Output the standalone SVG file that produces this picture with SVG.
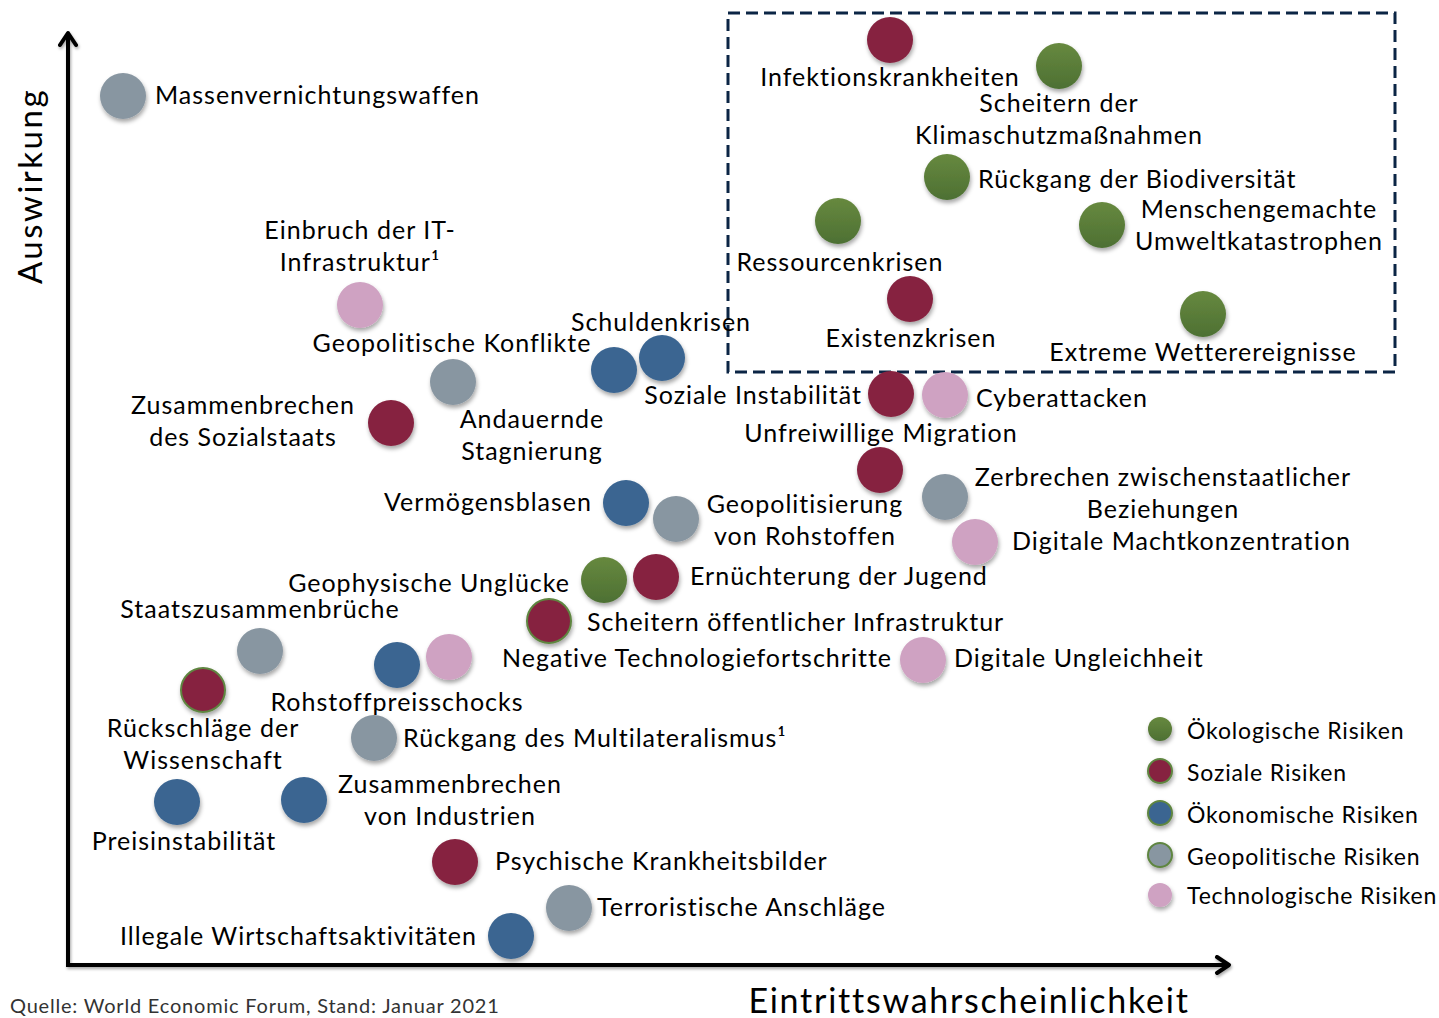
<svg xmlns="http://www.w3.org/2000/svg" width="1439" height="1018" viewBox="0 0 1439 1018">
<defs>
<filter id="sh" x="-30%" y="-30%" width="160%" height="170%"><feDropShadow dx="1" dy="3" stdDeviation="2" flood-color="#000" flood-opacity="0.35"/></filter>
<filter id="ash" filterUnits="userSpaceOnUse" x="0" y="0" width="1439" height="1018"><feDropShadow dx="1" dy="2" stdDeviation="1.5" flood-color="#000" flood-opacity="0.35"/></filter>
<linearGradient id="gg" x1="0" y1="0" x2="0" y2="1"><stop offset="0" stop-color="#67893f"/><stop offset="1" stop-color="#4d7033"/></linearGradient>
<marker id="arr" viewBox="0 0 20 20" refX="14" refY="10" markerWidth="20" markerHeight="20" markerUnits="userSpaceOnUse" orient="auto"><path d="M3,2 L15,10 L3,18" fill="none" stroke="#000" stroke-width="4" stroke-linecap="round" stroke-linejoin="round"/></marker>
</defs>
<style>
text{font-family:Lato,"Noto Sans",sans-serif;font-size:25px;fill:#000;letter-spacing:1px}
.c{text-anchor:middle}
.n circle{filter:url(#sh)}
.eco{fill:url(#gg)}
.soc{fill:#862440}
.ecn{fill:#3a6591}
.geo{fill:#8896a1}
.tec{fill:#cfa2c2}
.gs{stroke:#5e8540;stroke-width:2}
.lg text{font-size:23px;letter-spacing:0.85px}
</style>
<rect width="1439" height="1018" fill="#fff"/>
<g id="connectors" filter="url(#ash)">
<path d="M68,965 L68,34" fill="none" stroke="#000" stroke-width="4" marker-end="url(#arr)"/>
<path d="M66,965 L1228,965" fill="none" stroke="#000" stroke-width="4" marker-end="url(#arr)"/>
</g>
<rect id="focus-box" x="728" y="13" width="667" height="359" fill="none" stroke="#0b2545" stroke-width="3" stroke-dasharray="12 6"/>
<text x="0" y="0" transform="translate(42,186) rotate(-90)" class="c" style="font-size:33px;letter-spacing:2.5px">Auswirkung</text>
<text x="969" y="1013" class="c" style="font-size:34px;letter-spacing:1.75px">Eintrittswahrscheinlichkeit</text>
<text x="10" y="1013" style="font-size:20px;fill:#333;letter-spacing:0.8px">Quelle: World Economic Forum, Stand: Januar 2021</text>

<g id="n-massenvernichtungswaffen" class="n"><circle cx="123" cy="96" r="23" class="geo"/><text x="155" y="104">Massenvernichtungswaffen</text></g>
<g id="n-infektionskrankheiten" class="n"><circle cx="890" cy="40" r="23" class="soc"/><text x="890" y="86" class="c">Infektionskrankheiten</text></g>
<g id="n-klimaschutz" class="n"><circle cx="1059" cy="66" r="23" class="eco"/><text x="1059" y="112" class="c">Scheitern der</text><text x="1059" y="144" class="c">Klimaschutzmaßnahmen</text></g>
<g id="n-biodiversitaet" class="n"><circle cx="947" cy="177" r="23" class="eco"/><text x="978" y="188">Rückgang der Biodiversität</text></g>
<g id="n-umweltkatastrophen" class="n"><circle cx="1102" cy="225" r="23" class="eco"/><text x="1259" y="218" class="c">Menschengemachte</text><text x="1259" y="250" class="c">Umweltkatastrophen</text></g>
<g id="n-ressourcenkrisen" class="n"><circle cx="838" cy="221" r="23" class="eco"/><text x="840" y="271" class="c">Ressourcenkrisen</text></g>
<g id="n-existenzkrisen" class="n"><circle cx="910" cy="299" r="23" class="soc"/><text x="911" y="347" class="c">Existenzkrisen</text></g>
<g id="n-wetter" class="n"><circle cx="1203" cy="314" r="23" class="eco"/><text x="1203" y="361" class="c">Extreme Wetterereignisse</text></g>

<g id="n-it" class="n"><circle cx="360" cy="305" r="23" class="tec"/><text x="360" y="239" class="c">Einbruch der IT-</text><text x="360" y="271" class="c">Infrastruktur¹</text></g>
<g id="n-konflikte" class="n"><circle cx="453" cy="382" r="23" class="geo"/><text x="452" y="352" class="c">Geopolitische Konflikte</text></g>
<g id="n-stagnierung" class="n"><circle cx="614" cy="370" r="23" class="ecn"/><text x="532" y="428" class="c">Andauernde</text><text x="532" y="460" class="c">Stagnierung</text></g>
<g id="n-schuldenkrisen" class="n"><circle cx="662" cy="358" r="23" class="ecn"/><text x="661" y="331" class="c">Schuldenkrisen</text></g>
<g id="n-sozialstaat" class="n"><circle cx="391" cy="423" r="23" class="soc"/><text x="243" y="414" class="c">Zusammenbrechen</text><text x="243" y="446" class="c">des Sozialstaats</text></g>
<g id="n-instabilitaet" class="n"><circle cx="891" cy="394" r="23" class="soc"/><text x="862" y="404" text-anchor="end">Soziale Instabilität</text></g>
<g id="n-cyber" class="n"><circle cx="945" cy="395" r="23" class="tec"/><text x="976" y="407">Cyberattacken</text></g>
<g id="n-migration" class="n"><circle cx="880" cy="470" r="23" class="soc"/><text x="881" y="442" class="c">Unfreiwillige Migration</text></g>
<g id="n-beziehungen" class="n"><circle cx="945" cy="497" r="23" class="geo"/><text x="1163" y="486" class="c">Zerbrechen zwischenstaatlicher</text><text x="1163" y="518" class="c">Beziehungen</text></g>
<g id="n-machtkonzentration" class="n"><circle cx="975" cy="542" r="23" class="tec"/><text x="1012" y="550">Digitale Machtkonzentration</text></g>
<g id="n-vermoegensblasen" class="n"><circle cx="626" cy="503" r="23" class="ecn"/><text x="592" y="511" text-anchor="end">Vermögensblasen</text></g>
<g id="n-rohstoffe" class="n"><circle cx="676" cy="519" r="23" class="geo"/><text x="805" y="513" class="c">Geopolitisierung</text><text x="805" y="545" class="c">von Rohstoffen</text></g>
<g id="n-geophysisch" class="n"><circle cx="604" cy="580" r="23" class="eco"/><text x="570" y="592" text-anchor="end">Geophysische Unglücke</text></g>
<g id="n-jugend" class="n"><circle cx="656" cy="577" r="23" class="soc"/><text x="690" y="585">Ernüchterung der Jugend</text></g>
<g id="n-staatszusammenbrueche" class="n"><circle cx="260" cy="651" r="23" class="geo"/><text x="260" y="618" class="c">Staatszusammenbrüche</text></g>
<g id="n-infrastruktur" class="n"><circle cx="549" cy="621" r="22" class="soc gs"/><text x="587" y="631">Scheitern öffentlicher Infrastruktur</text></g>
<g id="n-rohstoffpreisschocks" class="n"><circle cx="397" cy="665" r="23" class="ecn"/><text x="397" y="711" class="c">Rohstoffpreisschocks</text></g>
<g id="n-technologiefortschritte" class="n"><circle cx="449" cy="657" r="23" class="tec"/><text x="892" y="667" text-anchor="end">Negative Technologiefortschritte</text></g>
<g id="n-ungleichheit" class="n"><circle cx="923" cy="660" r="23" class="tec"/><text x="954" y="667">Digitale Ungleichheit</text></g>
<g id="n-wissenschaft" class="n"><circle cx="203" cy="690" r="22" class="soc gs"/><text x="203" y="737" class="c">Rückschläge der</text><text x="203" y="769" class="c">Wissenschaft</text></g>
<g id="n-multilateralismus" class="n"><circle cx="374" cy="738" r="23" class="geo"/><text x="403" y="747">Rückgang des Multilateralismus¹</text></g>
<g id="n-industrien" class="n"><circle cx="304" cy="800" r="23" class="ecn"/><text x="450" y="793" class="c">Zusammenbrechen</text><text x="450" y="825" class="c">von Industrien</text></g>
<g id="n-preisinstabilitaet" class="n"><circle cx="177" cy="802" r="23" class="ecn"/><text x="184" y="850" class="c">Preisinstabilität</text></g>
<g id="n-psychisch" class="n"><circle cx="455" cy="862" r="23" class="soc"/><text x="495" y="870">Psychische Krankheitsbilder</text></g>
<g id="n-terror" class="n"><circle cx="569" cy="908" r="23" class="geo"/><text x="597" y="916">Terroristische Anschläge</text></g>
<g id="n-illegal" class="n"><circle cx="511" cy="936" r="23" class="ecn"/><text x="477" y="945" text-anchor="end">Illegale Wirtschaftsaktivitäten</text></g>

<g id="legend" class="n lg">
<circle cx="1160" cy="729" r="12" class="eco"/><text x="1187" y="739">Ökologische Risiken</text>
<circle cx="1160" cy="771" r="12" class="soc gs"/><text x="1187" y="781">Soziale Risiken</text>
<circle cx="1160" cy="813" r="12" class="ecn gs"/><text x="1187" y="823">Ökonomische Risiken</text>
<circle cx="1160" cy="855" r="12" class="geo gs"/><text x="1187" y="865">Geopolitische Risiken</text>
<circle cx="1160" cy="895" r="12" class="tec"/><text x="1187" y="904">Technologische Risiken</text>
</g>
</svg>
